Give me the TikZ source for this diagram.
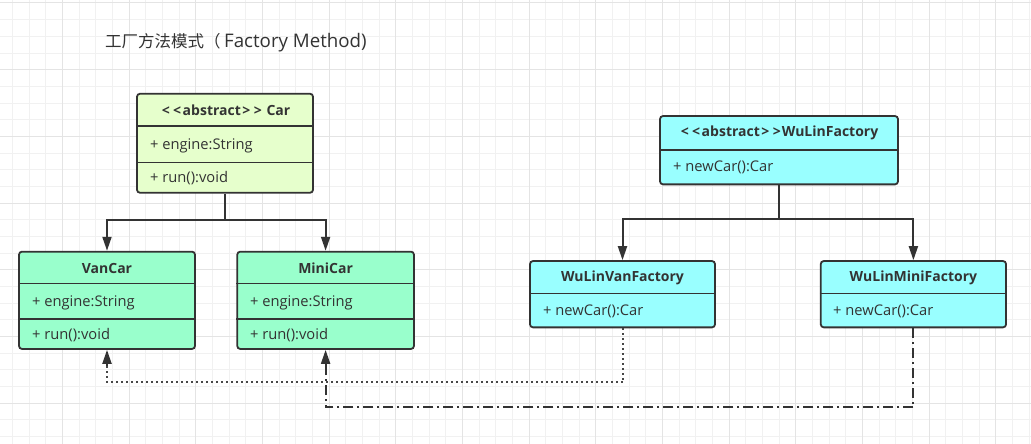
\documentclass[tikz,border=0pt]{standalone}
\usepackage{fontspec}
\setmainfont{Open Sans}
\newfontfamily\cjkfont{Noto Sans CJK SC}
\usetikzlibrary{arrows.meta}
\definecolor{ink}{HTML}{333333}
\definecolor{gridminor}{HTML}{F1F1F1}
\definecolor{gridmajor}{HTML}{E4E4E4}
\definecolor{carfill}{HTML}{E6FFCC}
\definecolor{subfill}{HTML}{99FFCC}
\definecolor{facfill}{HTML}{99FFFF}
\newcommand{\lsep}{<\kern3.5pt<\kern1.5pt}
\newcommand{\rsep}{\kern1.5pt>\kern3.5pt>\kern1pt}
\tikzset{
  umlbox/.style={draw=ink, line width=1.8pt, rounded corners=3pt, inner sep=0pt},
  divider/.style={draw=ink, line width=1.5pt},
  hdr/.style={text=ink, font=\fontsize{14}{16}\selectfont\bfseries, inner sep=0pt},
  member/.style={text=ink, font=\fontsize{14.7}{17}\selectfont, inner sep=0pt, anchor=west},
  conn/.style={draw=ink, line width=2pt},
  tip/.style={-{Triangle[length=14pt,width=9pt]}},
  dotline/.style={draw=ink!90, line width=2pt, dash pattern=on 2pt off 3pt},
  dashdotline/.style={draw=ink, line width=2pt, dash pattern=on 10pt off 4pt on 2pt off 4pt},
}
\begin{document}
\begin{tikzpicture}[x=1pt,y=-1pt]
\useasboundingbox (0,0) rectangle (1031,444);
\fill[white] (0,0) rectangle (1031,444);
% grid
\foreach \i in {0,...,61} {\draw[gridminor, line width=1pt] ({12.5+16.667*\i},0) -- ({12.5+16.667*\i},444);}
\foreach \j in {0,...,26} {\draw[gridminor, line width=1pt] (0,{3+16.667*\j}) -- (1031,{3+16.667*\j});}
\foreach \i in {0,...,14} {\draw[gridmajor, line width=1pt] ({62.5+66.667*\i},0) -- ({62.5+66.667*\i},444);}
\foreach \j in {0,...,6} {\draw[gridmajor, line width=1pt] (0,{3+66.667*\j}) -- (1031,{3+66.667*\j});}

% title
\node[anchor=west, text=ink, inner sep=0pt, font=\fontsize{18.7}{22}\selectfont] (title) at (105,43) {{\cjkfont\fontsize{16.5}{20}\selectfont 工厂方法模式（}\kern3.5pt Factory Method)};

% Car
\node[umlbox, fill=carfill, minimum width=176pt, minimum height=99pt] (car) at (225,143.25) {};
\draw[divider] ([yshift=-33.3pt]car.north west) -- ([yshift=-33.3pt]car.north east);
\draw[divider] ([yshift=-69.7pt]car.north west) -- ([yshift=-69.7pt]car.north east);
\node[hdr] (carT) at (226,110.5) {\lsep abstract\rsep\ Car};
\node[member] (carA) at (150,145.5) {+ engine:String};
\node[member] (carM) at (150,178) {+ run():void};

% VanCar
\node[umlbox, fill=subfill, minimum width=176pt, minimum height=97.3pt] (van) at (107,300.3) {};
\draw[divider] ([yshift=-32.6pt]van.north west) -- ([yshift=-32.6pt]van.north east);
\draw[divider] ([yshift=-68.3pt]van.north west) -- ([yshift=-68.3pt]van.north east);
\node[hdr] (vanT) at (107,268) {VanCar};
\node[member] (vanA) at (32,302.5) {+ engine:String};
\node[member] (vanM) at (32,335.5) {+ run():void};

% MiniCar
\node[umlbox, fill=subfill, minimum width=176.7pt, minimum height=97.3pt] (mini) at (325.6,300.3) {};
\draw[divider] ([yshift=-32.6pt]mini.north west) -- ([yshift=-32.6pt]mini.north east);
\draw[divider] ([yshift=-68.3pt]mini.north west) -- ([yshift=-68.3pt]mini.north east);
\node[hdr] (miniT) at (325.6,268) {MiniCar};
\node[member] (miniA) at (250,302.5) {+ engine:String};
\node[member] (miniM) at (250,335.5) {+ run():void};

% WuLinFactory
\node[umlbox, fill=facfill, minimum width=238pt, minimum height=68.3pt] (fac) at (779,150.2) {};
\draw[divider] ([yshift=-34.7pt]fac.north west) -- ([yshift=-34.7pt]fac.north east);
\node[hdr] (facT) at (779.5,133.3) {\lsep abstract\rsep WuLinFactory};
\node[member] (facA) at (673,167.5) {+ newCar():Car};

% WuLinVanFactory
\node[umlbox, fill=facfill, minimum width=185pt, minimum height=66.3pt] (wvf) at (622.5,294.2) {};
\draw[divider] ([yshift=-33.3pt]wvf.north west) -- ([yshift=-33.3pt]wvf.north east);
\node[hdr] (wvfT) at (622.5,277.7) {WuLinVanFactory};
\node[member] (wvfA) at (543,311) {+ newCar():Car};

% WuLinMiniFactory
\node[umlbox, fill=facfill, minimum width=185.3pt, minimum height=66.3pt] (wmf) at (913.4,294.2) {};
\draw[divider] ([yshift=-33.3pt]wmf.north west) -- ([yshift=-33.3pt]wmf.north east);
\node[hdr] (wmfT) at (913.4,277.7) {WuLinMiniFactory};
\node[member] (wmfA) at (833,311) {+ newCar():Car};

% inheritance connectors
\coordinate (cj) at (225,220.3);
\draw[conn] (car.south) -- (cj);
\draw[conn, tip] (cj) -| (van.north);
\draw[conn, tip] (cj) -| (mini.north);

\coordinate (fj) at (779,218.5);
\draw[conn] (fac.south) -- (fj);
\draw[conn, tip] (fj) -| (wvf.north);
\draw[conn, tip] (fj) -| (wmf.north);

% creation connectors
\coordinate (dj) at (622.5,382.3);
\draw[dotline] (wvf.south) -- (dj);
\draw[dotline] (dj) -| ([yshift=-16pt]van.south);
\draw[conn, tip] ([yshift=-16pt]van.south) -- (van.south);

\coordinate (ddj) at (913.4,407.3);
\draw[dashdotline] (wmf.south) -- (ddj);
\draw[dashdotline] (ddj) -| ([yshift=-16pt]mini.south);
\draw[conn, tip] ([yshift=-16pt]mini.south) -- (mini.south);
\end{tikzpicture}
\end{document}
